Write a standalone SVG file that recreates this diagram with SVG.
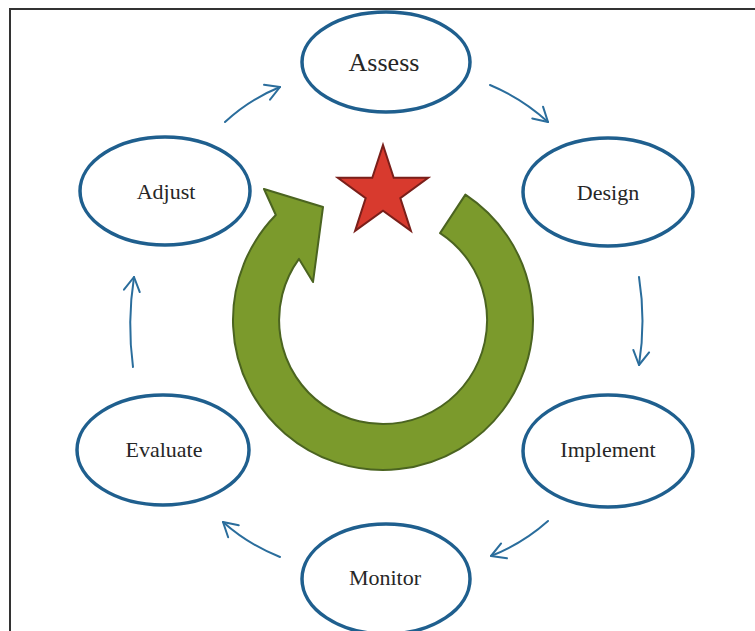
<svg xmlns="http://www.w3.org/2000/svg" width="755" height="631" viewBox="0 0 755 631">
  <style>
    .node ellipse { fill: #ffffff; stroke: #1f5f8e; stroke-width: 3.5; }
    .node text { font-family: "Liberation Serif", "Times New Roman", serif; font-size: 22px; fill: #262626; text-anchor: middle; }
    .flow { fill: none; stroke: #2a6d9c; stroke-width: 2; stroke-linecap: round; marker-end: url(#chevron); }
    .frame { fill: none; stroke: #333333; stroke-width: 2; }
  </style>
  <defs>
    <marker id="chevron" viewBox="0 0 20 20" refX="16" refY="10" markerWidth="20" markerHeight="20" markerUnits="userSpaceOnUse" orient="auto">
      <path d="M2,2 L16,10 L2,18" fill="none" stroke="#2a6d9c" stroke-width="2" stroke-linecap="round" stroke-linejoin="round"/>
    </marker>
  </defs>

  <rect width="755" height="631" fill="#ffffff"/>

  <!-- page frame: top and left edges -->
  <path class="frame" d="M10,631 L10,9 L755,9"/>

  <!-- central cycle arrow -->
  <g id="cycle-arrow">
    <path d="M465.4,194.6 A150,150 0 1 1 275.8,215 L264,189 L323,207 L313,282 L299,258.9 A104,104 0 1 0 440.1,233.1 Z"
          fill="#7b9a2c" stroke="#4b6420" stroke-width="2" stroke-linejoin="round"/>
  </g>

  <!-- star -->
  <g id="star">
    <polygon points="383,145 393.7,177.8 428.2,177.8 400.3,198.1 410.9,230.9 383,210.7 355.1,230.9 365.7,198.1 337.8,177.8 372.3,177.8"
             fill="#d83a2e" stroke="#7a1f1a" stroke-width="2" stroke-linejoin="miter"/>
  </g>

  <!-- connectors between stages -->
  <g id="connectors">
    <path class="flow" d="M225,122 Q249.4,99.4 280,87"/>
    <path class="flow" d="M490,85 Q522,98.4 548,122"/>
    <path class="flow" d="M639,277 Q646,321 639,365"/>
    <path class="flow" d="M548,521 Q522.6,543.6 491,556"/>
    <path class="flow" d="M280,557 Q248.4,544.6 223,522"/>
    <path class="flow" d="M133,367 Q127,322 134,277"/>
  </g>

  <!-- stages -->
  <g id="assess" class="node">
    <ellipse cx="386" cy="62" rx="84" ry="50"/>
    <text x="384" y="71" style="font-size:26px">Assess</text>
  </g>
  <g id="design" class="node">
    <ellipse cx="608" cy="192" rx="85" ry="54"/>
    <text x="608" y="200">Design</text>
  </g>
  <g id="implement" class="node">
    <ellipse cx="608" cy="451" rx="85" ry="56"/>
    <text x="608" y="457">Implement</text>
  </g>
  <g id="monitor" class="node">
    <ellipse cx="386" cy="579" rx="84" ry="55"/>
    <text x="385" y="585">Monitor</text>
  </g>
  <g id="evaluate" class="node">
    <ellipse cx="163" cy="450" rx="86" ry="55"/>
    <text x="164" y="457">Evaluate</text>
  </g>
  <g id="adjust" class="node">
    <ellipse cx="165" cy="191" rx="85" ry="54"/>
    <text x="166" y="199">Adjust</text>
  </g>
</svg>
